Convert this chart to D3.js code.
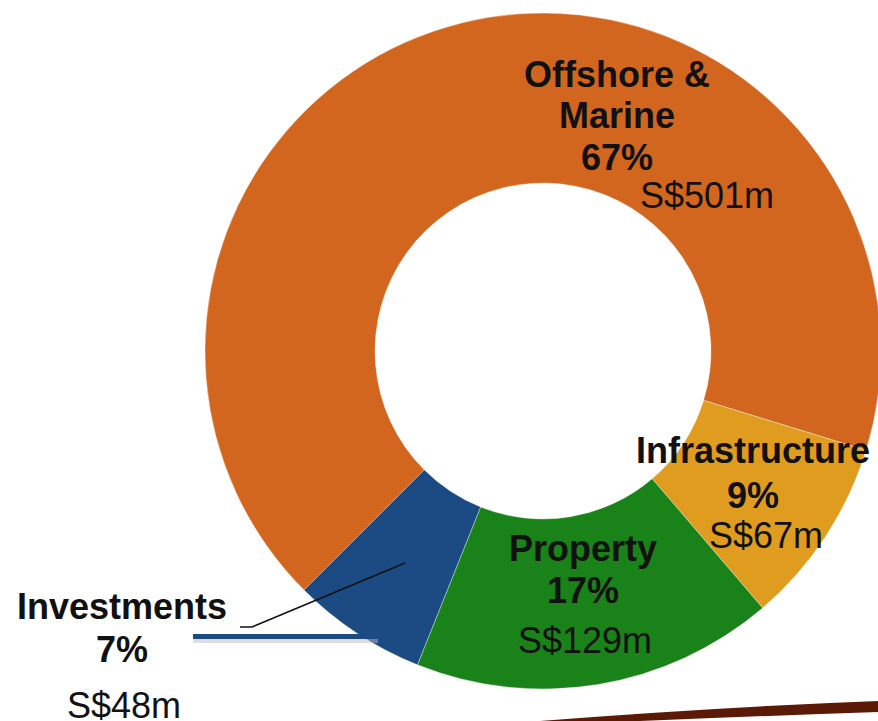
<!DOCTYPE html>
<html>
<head>
<meta charset="utf-8">
<script src="https://cdn.jsdelivr.net/npm/d3@7"></script>
<style>
  html, body { margin: 0; padding: 0; background: #fff; overflow: hidden; }
  text { font-family: "Liberation Sans", Arial, sans-serif; fill: #111; }
</style>
</head>
<body>
<div id="chart"></div>
<script>
// segment data
var segments = ["Offshore & Marine", "Infrastructure", "Property", "Investments"];
var values = [501, 67, 129, 48];
var percentLabels = ["67%", "9%", "17%", "7%"];
var amountLabels = ["S$501m", "S$67m", "S$129m", "S$48m"];
var nameLines = [["Offshore &", "Marine"], ["Infrastructure"], ["Property"], ["Investments"]];
var colors = ["#D2661E", "#E09C1F", "#198219", "#1B4B82"];

var width = 878, height = 721;
var cx = 543, cy = 351, outerR = 338, innerR = 168;

var svg = d3.select("#chart")
  .append("svg")
    .attr("width", width)
    .attr("height", height);

// shadow swoosh at the bottom
svg.append("path")
  .attr("d", "M540,721 Q720,707 878,701 L878,712 Q760,716 640,721 Z")
  .attr("fill", "#5B1A06");

var pie = d3.pie()
  .sort(null)
  .startAngle(225 * Math.PI / 180)
  .endAngle(585 * Math.PI / 180);

var arc = d3.arc()
  .innerRadius(innerR)
  .outerRadius(outerR);

var g = svg.append("g")
  .attr("transform", "translate(" + cx + "," + cy + ")");

g.selectAll("path.slice")
  .data(pie(values))
  .enter().append("path")
    .attr("class", "slice")
    .attr("d", arc)
    .attr("fill", function(d, i) { return colors[i]; })
    .attr("stroke", "#fff")
    .attr("stroke-width", 0.6)
    .attr("stroke-opacity", 0.6);

// investments callout: blue bar + leader line
svg.append("rect")
  .attr("x", 193).attr("y", 638)
  .attr("width", 185).attr("height", 5)
  .attr("fill", "#bbb").attr("opacity", 0.5);
svg.append("rect")
  .attr("x", 193).attr("y", 634)
  .attr("width", 185).attr("height", 5)
  .attr("fill", colors[3]);
svg.append("polyline")
  .attr("points", "240,627 252,627 405,563")
  .attr("fill", "none")
  .attr("stroke", "#111")
  .attr("stroke-width", 1.5);

// label placement: [x of name, first name baseline, pct baseline, amount x, amount baseline]
var labelPos = [
  {x: 617, name: 87, pct: 170, ax: 707, amt: 208},
  {x: 753, name: 463, pct: 508, ax: 766, amt: 548},
  {x: 583, name: 561, pct: 603, ax: 585, amt: 653},
  {x: 122, name: 619, pct: 662, ax: 124, amt: 718}
];

segments.forEach(function(s, i) {
  var p = labelPos[i];
  nameLines[i].forEach(function(line, j) {
    svg.append("text")
      .attr("x", p.x)
      .attr("y", p.name + j * 41)
      .attr("text-anchor", "middle")
      .style("font-size", "36px")
      .style("font-weight", "bold")
      .text(line);
  });
  svg.append("text")
    .attr("x", p.x)
    .attr("y", p.pct)
    .attr("text-anchor", "middle")
    .style("font-size", "36px")
    .style("font-weight", "bold")
    .text(percentLabels[i]);
  svg.append("text")
    .attr("x", p.ax)
    .attr("y", p.amt)
    .attr("text-anchor", "middle")
    .style("font-size", "36px")
    .text(amountLabels[i]);
});
</script>
</body>
</html>
